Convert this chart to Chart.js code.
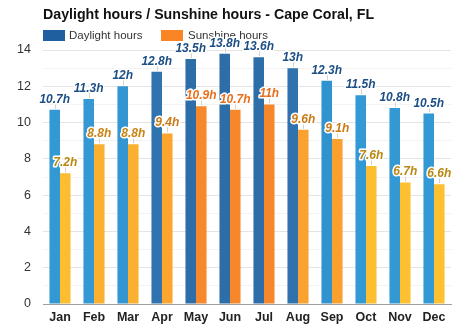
<!DOCTYPE html>
<html lang="en">
<head>
<meta charset="utf-8">
<script src="https://cdn.jsdelivr.net/npm/chart.js@4.4.1/dist/chart.umd.min.js"></script>
<style>
  html, body { margin: 0; padding: 0; background: #fff; }
  #wrap { width: 474px; height: 331px; position: relative; }
</style>
</head>
<body>
<div id="wrap"><canvas id="chart" width="474" height="331"></canvas></div>
<script>
var months = ['Jan', 'Feb', 'Mar', 'Apr', 'May', 'Jun', 'Jul', 'Aug', 'Sep', 'Oct', 'Nov', 'Dec'];
var daylight = [10.7, 11.3, 12, 12.8, 13.5, 13.8, 13.6, 13, 12.3, 11.5, 10.8, 10.5];
var sunshine = [7.2, 8.8, 8.8, 9.4, 10.9, 10.7, 11, 9.6, 9.1, 7.6, 6.7, 6.6];

// longer days get a deeper blue, sunnier months a deeper orange
var dayColors = ['#3399d5', '#3398d4', '#3396d2', '#2f74af', '#2e6ea8', '#2e6ea8',
                 '#2e6ea8', '#2f72ad', '#3192d0', '#3399d5', '#3399d5', '#3399d5'];
var sunColors = ['#fdbd30', '#fcb02f', '#fcb02f', '#fca52f', '#f7882b', '#f7872b',
                 '#f7872b', '#faa22f', '#f9a02f', '#fdbe30', '#fdc030', '#fdc030'];
var sunLabelColors = ['#b98810', '#c98414', '#c98414', '#cc7a14', '#e8701c', '#e8701c',
                      '#e8701c', '#cc7a14', '#cc7a14', '#b98810', '#b98810', '#b98810'];

var headerPlugin = {
  id: 'header',
  beforeDraw: function (chart) {
    var ctx = chart.ctx;
    var left = chart.chartArea.left;
    ctx.save();
    ctx.fillStyle = '#111';
    ctx.font = 'bold 14.2px "Liberation Sans", Arial, sans-serif';
    ctx.textBaseline = 'middle';
    ctx.fillText('Daylight hours / Sunshine hours - Cape Coral, FL', left, 15);

    ctx.font = '11.5px "Liberation Sans", Arial, sans-serif';
    ctx.fillStyle = '#1f5fa0';
    ctx.fillRect(left, 30, 22, 11);
    ctx.fillStyle = '#333';
    ctx.fillText('Daylight hours', left + 26, 36);
    ctx.fillStyle = '#f98524';
    ctx.fillRect(left + 118, 30, 22, 11);
    ctx.fillStyle = '#333';
    ctx.fillText('Sunshine hours', left + 145, 36);
    ctx.restore();
  }
};

var valueLabels = {
  id: 'valueLabels',
  afterDatasetsDraw: function (chart) {
    var ctx = chart.ctx;
    ctx.save();
    ctx.font = 'italic bold 12px "Liberation Sans", Arial, sans-serif';
    ctx.textAlign = 'center';
    ctx.textBaseline = 'alphabetic';
    ctx.lineJoin = 'round';
    chart.data.datasets.forEach(function (ds, di) {
      chart.getDatasetMeta(di).data.forEach(function (bar, i) {
        var x = bar.x, y = bar.y;
        ctx.strokeStyle = '#d8d2c8';
        ctx.lineWidth = 1;
        ctx.beginPath();
        ctx.moveTo(Math.round(x) + 0.5, y - 1);
        ctx.lineTo(Math.round(x) + 0.5, y - 8);
        ctx.stroke();
        var txt = ds.data[i] + 'h';
        ctx.strokeStyle = '#fff';
        ctx.lineWidth = 3;
        ctx.strokeText(txt, x, y - 7);
        ctx.fillStyle = di === 0 ? '#1c4f86' : sunLabelColors[i];
        ctx.fillText(txt, x, y - 7);
      });
    });
    ctx.restore();
  }
};

new Chart(document.getElementById('chart'), {
  type: 'bar',
  data: {
    labels: months,
    datasets: [
      { label: 'Daylight hours', data: daylight, backgroundColor: dayColors },
      { label: 'Sunshine hours', data: sunshine, backgroundColor: sunColors }
    ]
  },
  options: {
    responsive: false,
    animation: false,
    layout: { padding: { top: 50, right: 23, bottom: 0, left: 0 } },
    datasets: { bar: { categoryPercentage: 0.62, barPercentage: 1 } },
    plugins: {
      legend: { display: false },
      title: { display: false },
      tooltip: { enabled: false }
    },
    scales: {
      x: {
        afterFit: function (scale) { scale.height = 27; },
        grid: { display: false, drawTicks: false },
        border: { color: '#a0a0a0', width: 1 },
        ticks: {
          color: '#222',
          padding: 6,
          font: { family: '"Liberation Sans", Arial, sans-serif', size: 12.5, weight: 'bold' }
        }
      },
      y: {
        min: 0,
        max: 14,
        afterFit: function (scale) { scale.width = 43; },
        border: { display: false },
        grid: {
          drawTicks: false,
          color: function (c) { return c.tick.value % 2 === 0 ? '#e4e4e4' : '#f3f3f3'; }
        },
        ticks: {
          stepSize: 1,
          padding: 12,
          color: '#333',
          font: { family: '"Liberation Sans", Arial, sans-serif', size: 12.5 },
          callback: function (v) { return v % 2 === 0 ? v : ''; }
        }
      }
    }
  },
  plugins: [headerPlugin, valueLabels]
});
</script>
</body>
</html>
